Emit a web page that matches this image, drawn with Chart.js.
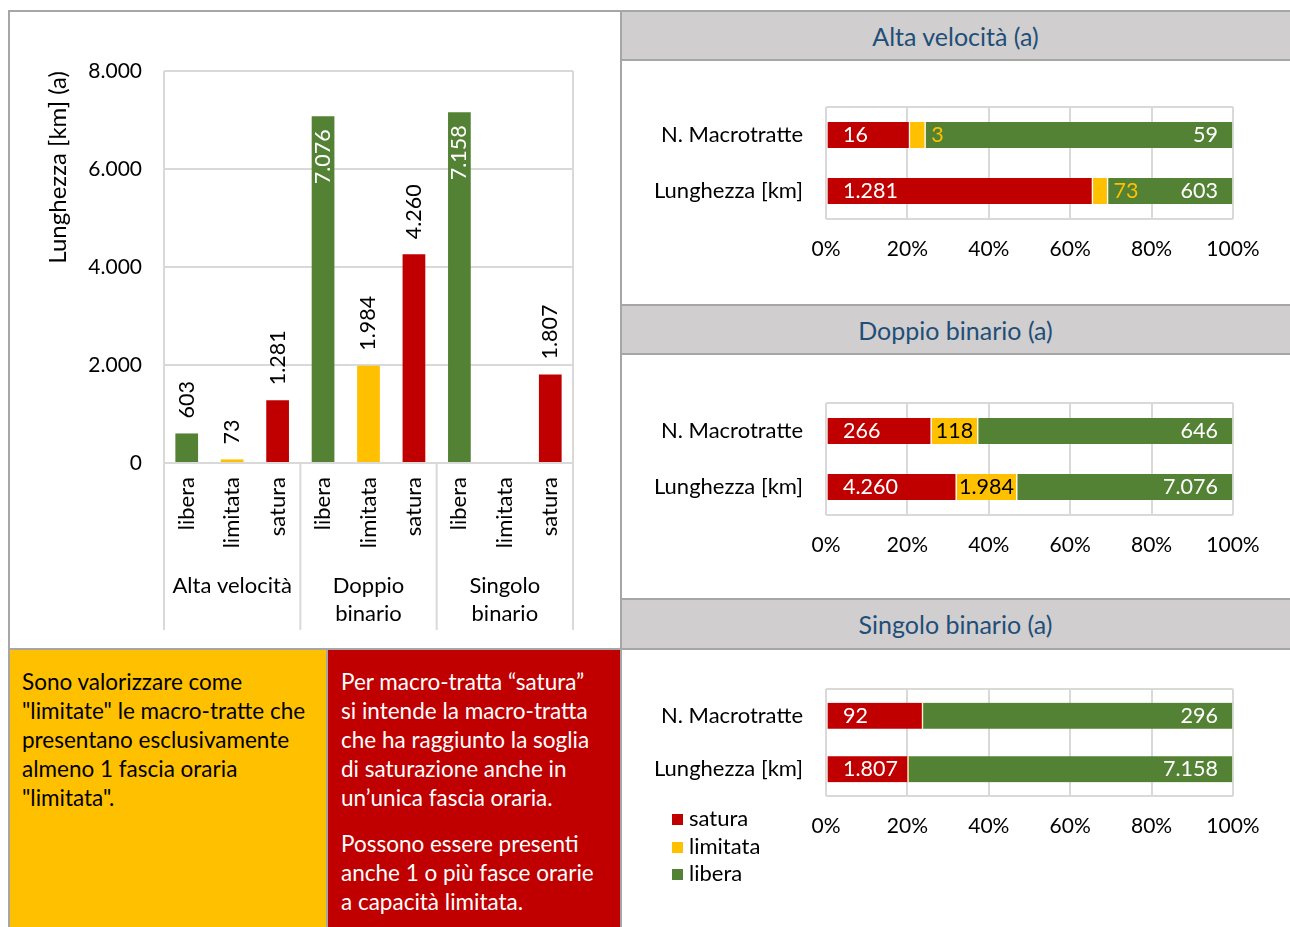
<!DOCTYPE html>
<html lang="it">
<head>
<meta charset="utf-8">
<title>Macro-tratte: lunghezza e saturazione</title>
<script src="https://cdn.jsdelivr.net/npm/chart.js@4.4.1/dist/chart.umd.min.js"></script>
<style>
  body { margin: 0; width: 1290px; height: 927px; position: relative; overflow: hidden; background: #fff; font-family: Lato, 'Open Sans', sans-serif; }
  .abs { position: absolute; box-sizing: border-box; }
  .pannello { left: 8px; top: 10px; width: 614px; height: 640px; border: 2px solid #a6a6a6; }
  .testata { left: 621px; width: 669px; background: #d0cece; border-top: 2px solid #a6a6a6; border-bottom: 2px solid #a6a6a6;
             color: #1f4e79; font-size: 25px; text-align: center; display: flex; align-items: center; justify-content: center; }
  .nota { top: 648px; height: 279px; border-left: 2px solid #a6a6a6; border-top: 2px solid #a6a6a6; font-size: 22.5px; line-height: 29px; white-space: nowrap; padding-top: 17px; }
  .nota p { margin: 0 0 17px 0; }
  .linea { left: 620px; top: 10px; width: 2px; height: 917px; background: #a6a6a6; }
  canvas { position: absolute; }
  .legenda { left: 672px; top: 804px; font-size: 22px; line-height: 27.5px; }
  .legenda span.q { display: inline-block; width: 11px; height: 11px; margin-right: 6px; vertical-align: 1px; }
</style>
</head>
<body>

<div class="abs pannello"></div>
<canvas id="graficoLunghezza" width="608" height="634" style="left:10px; top:12px;"></canvas>

<div class="abs nota" style="left:8px; width:318px; background:#ffc000; color:#000; padding-left:12px;">
  Sono valorizzare come<br>"limitate" le macro-tratte che<br>presentano esclusivamente<br>almeno 1 fascia oraria<br>"limitata".
</div>
<div class="abs nota" style="left:326px; width:296px; background:#c00000; color:#fff; padding-left:13px;">
  <p>Per macro-tratta “satura”<br>si intende la macro-tratta<br>che ha raggiunto la soglia<br>di saturazione anche in<br>un’unica fascia oraria.</p>
  <p>Possono essere presenti<br>anche 1 o più fasce orarie<br>a capacità limitata.</p>
</div>

<div class="abs testata" style="top:10px; height:51px;">Alta velocità (a)</div>
<canvas id="graficoAV" width="669" height="242" style="left:621px; top:61px;"></canvas>

<div class="abs testata" style="top:304px; height:51px;">Doppio binario (a)</div>
<canvas id="graficoDB" width="669" height="242" style="left:621px; top:355px;"></canvas>

<div class="abs testata" style="top:598px; height:52px;">Singolo binario (a)</div>
<canvas id="graficoSB" width="669" height="277" style="left:621px; top:650px;"></canvas>
<div class="abs legenda" id="legenda"></div>

<div class="abs linea"></div>

<script>
// --- dati ---
const stati = ['libera', 'limitata', 'satura'];
const gruppi = ['Alta velocità', ['Doppio', 'binario'], ['Singolo', 'binario']];
const lunghezzaAV = [603, 73, 1281];
const lunghezzaDoppio = [7076, 1984, 4260];
const lunghezzaSingolo = [7158, 0, 1807];
const tickMaxLunghezza = 8000;
const tickPassoLunghezza = 2000;

const righe = ['N. Macrotratte', 'Lunghezza [km]'];
const avSatura = [16, 1281];
const avLimitata = [3, 73];
const avLibera = [59, 603];
const dbSatura = [266, 4260];
const dbLimitata = [118, 1984];
const dbLibera = [646, 7076];
const sbSatura = [92, 1807];
const sbLimitata = [0, 0];
const sbLibera = [296, 7158];
const tickPercentuali = [0, 20, 40, 60, 80, 100];

const verde = '#548235';
const giallo = '#ffc000';
const rosso = '#c00000';
const coloreStato = { libera: verde, limitata: giallo, satura: rosso };
const grigioGriglia = '#d9d9d9';
const fontNumeri = '21.5px Lato';

Chart.defaults.font.family = 'Lato';
Chart.defaults.font.size = 22;
Chart.defaults.color = '#000';

function formatIt(n) {
    return String(n).replace(/\B(?=(\d{3})+(?!\d))/g, '.');
}

// --- grafico colonne a sinistra ---
const categorie = [...stati, ...stati, ...stati];
const valori = [...lunghezzaAV, ...lunghezzaDoppio, ...lunghezzaSingolo];

const etichetteColonne = {
    id: 'etichetteColonne',
    afterDatasetsDraw(chart) {
        const { ctx, chartArea } = chart;
        ctx.save();
        ctx.font = fontNumeri;
        ctx.textBaseline = 'middle';
        chart.getDatasetMeta(0).data.forEach((bar, i) => {
            const v = valori[i];
            if (!v) return;
            const testo = formatIt(v);
            const w = ctx.measureText(testo).width;
            ctx.save();
            ctx.translate(bar.x, bar.y);
            ctx.rotate(-Math.PI / 2);
            if (bar.y - 15 - w < chartArea.top) {
                ctx.fillStyle = '#fff';
                ctx.textAlign = 'right';
                ctx.fillText(testo, -13, 0);
            } else {
                ctx.fillStyle = '#000';
                ctx.textAlign = 'left';
                ctx.fillText(testo, 15, 0);
            }
            ctx.restore();
        });
        ctx.restore();
    }
};

// linee che separano i gruppi sotto l'asse
const separatoriGruppi = {
    id: 'separatoriGruppi',
    afterDraw(chart) {
        const { ctx, chartArea } = chart;
        const x = chart.scales.x;
        const fondo = chart.scales.x2.bottom;
        ctx.save();
        ctx.strokeStyle = grigioGriglia;
        ctx.lineWidth = 2;
        const linea = (px, da) => {
            ctx.beginPath();
            ctx.moveTo(px, da);
            ctx.lineTo(px, fondo);
            ctx.stroke();
        };
        linea(chartArea.left, chartArea.top);
        linea(chartArea.right, chartArea.top);
        for (let g = 1; g < gruppi.length; g++) {
            const n = g * stati.length;
            linea((x.getPixelForTick(n - 1) + x.getPixelForTick(n)) / 2, chartArea.bottom);
        }
        ctx.restore();
    }
};

new Chart(document.getElementById('graficoLunghezza'), {
    type: 'bar',
    data: {
        labels: categorie,
        datasets: [{
            label: 'Lunghezza [km]',
            data: valori,
            backgroundColor: categorie.map(s => coloreStato[s]),
            barPercentage: 0.5,
            categoryPercentage: 1
        }]
    },
    options: {
        responsive: false,
        animation: false,
        layout: { padding: { left: 0, right: 45, top: 59, bottom: 16 } },
        plugins: { legend: { display: false }, tooltip: { enabled: false } },
        scales: {
            x: {
                weight: 0,
                grid: { display: false, drawTicks: false },
                border: { display: false },
                ticks: { minRotation: 90, maxRotation: 90, padding: 14, autoSkip: false },
                afterFit: s => { s.height = 100; }
            },
            x2: {
                type: 'category',
                position: 'bottom',
                weight: 1,
                labels: gruppi,
                offset: true,
                grid: { display: false, drawTicks: false },
                border: { display: false },
                ticks: { maxRotation: 0, autoSkip: false, padding: 9, font: { lineHeight: 1.27 } },
                afterFit: s => { s.height = 67; }
            },
            y: {
                min: 0,
                max: tickMaxLunghezza,
                ticks: { stepSize: tickPassoLunghezza, padding: 22, font: { size: 21 }, callback: v => formatIt(v) },
                grid: { color: grigioGriglia, lineWidth: 2, drawTicks: false },
                border: { display: false },
                title: { display: true, text: 'Lunghezza [km] (a)', align: 'end', font: { size: 24 }, padding: { top: 34, bottom: 0 } },
                afterFit: s => { s.width = 154; }
            }
        }
    },
    plugins: [etichetteColonne, separatoriGruppi]
});

// --- barre orizzontali 100% ---
const cornice = {
    id: 'cornice',
    beforeDatasetsDraw(chart) {
        const { ctx, chartArea } = chart;
        ctx.save();
        ctx.strokeStyle = grigioGriglia;
        ctx.lineWidth = 2;
        [chartArea.top, chartArea.bottom].forEach(y => {
            ctx.beginPath();
            ctx.moveTo(chartArea.left, y);
            ctx.lineTo(chartArea.right, y);
            ctx.stroke();
        });
        ctx.restore();
    }
};

// le quote "limitata" troppo strette hanno l'etichetta gialla accanto
const larghezzaMinimaInterna = 30;

const etichetteBarre = {
    id: 'etichetteBarre',
    afterDatasetsDraw(chart) {
        const { ctx } = chart;
        ctx.save();
        ctx.font = fontNumeri;
        ctx.textBaseline = 'middle';
        chart.data.datasets.forEach((ds, d) => {
            chart.getDatasetMeta(d).data.forEach((bar, i) => {
                const v = ds.valori[i];
                if (!v) return;
                const testo = formatIt(v);
                const inizio = Math.min(bar.base, bar.x);
                const fine = Math.max(bar.base, bar.x);
                if (ds.label === 'satura') {
                    ctx.fillStyle = '#fff';
                    ctx.textAlign = 'left';
                    ctx.fillText(testo, inizio + 16, bar.y);
                } else if (ds.label === 'libera') {
                    ctx.fillStyle = '#fff';
                    ctx.textAlign = 'right';
                    ctx.fillText(testo, fine - 15, bar.y);
                } else if (fine - inizio >= larghezzaMinimaInterna) {
                    ctx.fillStyle = '#000';
                    ctx.textAlign = 'center';
                    ctx.fillText(testo, (inizio + fine) / 2, bar.y);
                } else {
                    ctx.fillStyle = giallo;
                    ctx.textAlign = 'left';
                    ctx.fillText(testo, fine + 6, bar.y);
                }
            });
        });
        ctx.restore();
    }
};

function barre100(idCanvas, satura, limitata, libera, sopra, sotto) {
    const totali = satura.map((v, i) => v + limitata[i] + libera[i]);
    const quota = arr => arr.map((v, i) => v / totali[i] * 100);
    return new Chart(document.getElementById(idCanvas), {
        type: 'bar',
        data: {
            labels: righe,
            datasets: [
                { label: 'satura', data: quota(satura), valori: satura, backgroundColor: rosso },
                { label: 'limitata', data: quota(limitata), valori: limitata, backgroundColor: giallo },
                { label: 'libera', data: quota(libera), valori: libera, backgroundColor: verde }
            ]
        },
        options: {
            indexAxis: 'y',
            responsive: false,
            animation: false,
            layout: { padding: { left: 0, right: 57, top: sopra, bottom: sotto } },
            datasets: {
                bar: {
                    barThickness: 26,
                    borderColor: '#fff',
                    borderWidth: { left: 1, right: 1, top: 0, bottom: 0 },
                    borderSkipped: false
                }
            },
            plugins: { legend: { display: false }, tooltip: { enabled: false } },
            scales: {
                x: {
                    stacked: true,
                    min: tickPercentuali[0],
                    max: tickPercentuali[tickPercentuali.length - 1],
                    afterBuildTicks: s => { s.ticks = tickPercentuali.map(v => ({ value: v })); },
                    ticks: { padding: 18, font: { size: 21 }, callback: v => v + '%' },
                    grid: { color: grigioGriglia, lineWidth: 2, drawTicks: false },
                    border: { display: false },
                    afterFit: s => { s.height = 60; }
                },
                y: {
                    stacked: true,
                    grid: { display: false, drawTicks: false },
                    border: { display: false },
                    ticks: { padding: 23 },
                    afterFit: s => { s.width = 205; }
                }
            }
        },
        plugins: [cornice, etichetteBarre]
    });
}

barre100('graficoAV', avSatura, avLimitata, avLibera, 46, 24);
barre100('graficoDB', dbSatura, dbLimitata, dbLibera, 48, 22);
const graficoSB = barre100('graficoSB', sbSatura, sbLimitata, sbLibera, 39, 71);

// legenda in basso a sinistra del terzo grafico
const legenda = document.getElementById('legenda');
graficoSB.data.datasets.forEach(ds => {
    const riga = document.createElement('div');
    const q = document.createElement('span');
    q.className = 'q';
    q.style.background = ds.backgroundColor;
    riga.appendChild(q);
    riga.appendChild(document.createTextNode(ds.label));
    legenda.appendChild(riga);
});
</script>
</body>
</html>
